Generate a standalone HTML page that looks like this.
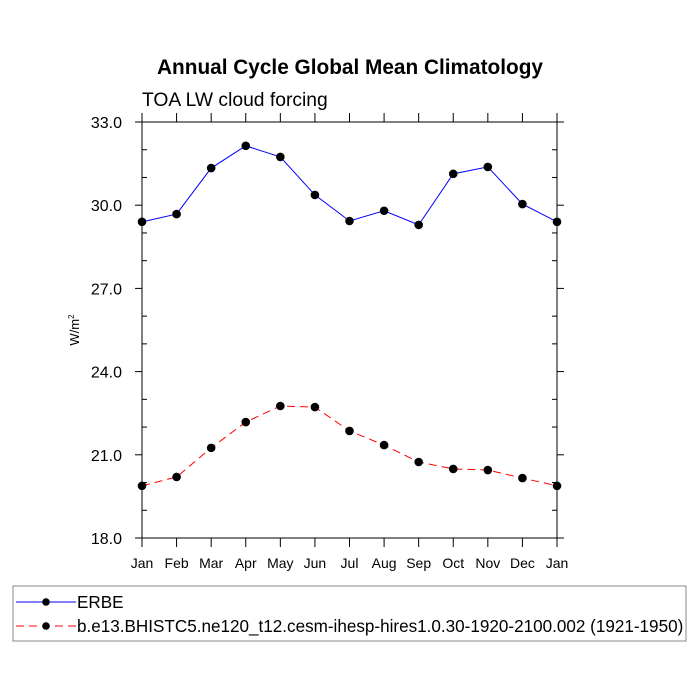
<!DOCTYPE html>
<html><head><meta charset="utf-8"><style>body{margin:0;background:#fff}svg{display:block;font-family:"Liberation Sans",sans-serif}</style></head>
<body>
<svg id="c" width="700" height="700">
<text x="350" y="74" text-anchor="middle" font-size="20.8" font-weight="bold">Annual Cycle Global Mean Climatology</text>
<text x="142" y="106" font-size="19.3">TOA LW cloud forcing</text>
<text transform="translate(79,330) rotate(-90)" text-anchor="middle" font-size="13">W/m<tspan font-size="8" dy="-5">2</tspan></text>
<g id="ax"></g><g id="marks"></g>
<rect x="13" y="586" width="673" height="55" fill="none" stroke="#888"/>
<g id="leg"></g>
</svg>
<script>
const months=["Jan","Feb","Mar","Apr","May","Jun","Jul","Aug","Sep","Oct","Nov","Dec","Jan"];
const erbe=[29.4,29.68,31.34,32.14,31.74,30.37,29.43,29.8,29.29,31.13,31.38,30.04,29.4];
const model=[19.88,20.2,21.25,22.18,22.76,22.72,21.86,21.35,20.74,20.49,20.45,20.16,19.88];
const yTicks=[18,21,24,27,30,33];
const seriesNames=["ERBE","b.e13.BHISTC5.ne120_t12.cesm-ihesp-hires1.0.30-1920-2100.002 (1921-1950)"];
const L=142,R=557,T=122,B=538,ymin=18,ymax=33;
const X=i=>L+(R-L)*i/(months.length-1);
const Y=v=>B-(v-ymin)/(ymax-ymin)*(B-T);
const NS="http://www.w3.org/2000/svg";
function mk(p,t,a){const e=document.createElementNS(NS,t);for(const k in a)e.setAttribute(k,a[k]);p.appendChild(e);return e;}
const ax=document.getElementById('ax');
const frame=mk(ax,'rect',{x:L,y:T,width:R-L,height:B-T,fill:'none',stroke:'#000','stroke-width':1});


for(let v=ymin;v<=ymax+1e-9;v+=1){
 const y=Y(v);const major=yTicks.includes(Math.round(v*10)/10);
 if(major){mk(ax,'line',{x1:L-7,x2:L,y1:y,y2:y,stroke:'#000'});mk(ax,'line',{x1:R,x2:R+7,y1:y,y2:y,stroke:'#000'});}
 else{mk(ax,'line',{x1:L,x2:L+5,y1:y,y2:y,stroke:'#000'});mk(ax,'line',{x1:R-5,x2:R,y1:y,y2:y,stroke:'#000'});}
}
yTicks.forEach(v=>{const t=mk(ax,'text',{x:L-20,y:Y(v)+6,'text-anchor':'end','font-size':16});t.textContent=v.toFixed(1);
 
 });
months.forEach((m,i)=>{const x=X(i);mk(ax,'line',{x1:x,x2:x,y1:B,y2:B+9,stroke:'#000'});mk(ax,'line',{x1:x,x2:x,y1:T-9,y2:T,stroke:'#000'});
 const t=mk(ax,'text',{x:x,y:B+30,'text-anchor':'middle','font-size':14});t.textContent=m;
 
 });
const g=document.getElementById('marks');
function series(vals,color,dash,name){
 const pl=mk(g,'polyline',{points:vals.map((v,i)=>X(i)+','+Y(v)).join(' '),fill:'none',stroke:color,'stroke-width':1,'stroke-dasharray':dash});
 
 
 vals.forEach((v,i)=>{const c=mk(g,'circle',{cx:X(i),cy:Y(v),r:4.3,fill:'#000'});
  
  });
}
series(erbe,'#00f','none','erbe');
series(model,'#f00','8 5','model');
const lg=document.getElementById('leg');
[[0,'#00f','none',602],[1,'#f00','8 5',626]].forEach(([k,c,d,y])=>{
 mk(lg,'line',{x1:16,x2:76,y1:y,y2:y,stroke:c,'stroke-dasharray':d});
 mk(lg,'circle',{cx:46,cy:y,r:3.8,fill:'#000'});
 const t=mk(lg,'text',{x:77,y:y+6,'font-size':17.1});t.textContent=seriesNames[k];
 
 
});
</script>
</body></html>
